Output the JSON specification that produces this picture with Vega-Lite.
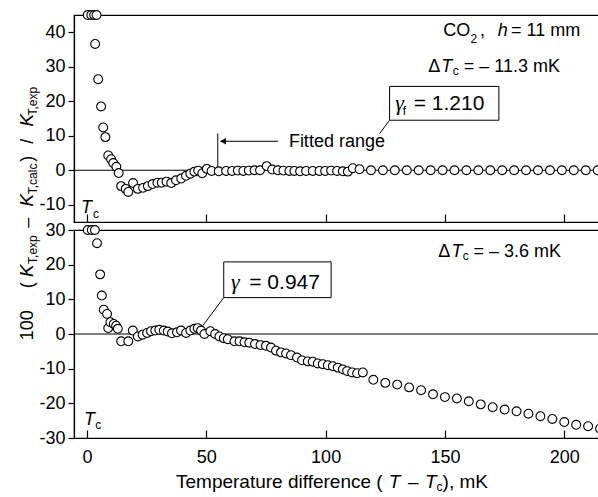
{
  "$schema": "https://vega.github.io/schema/vega-lite/v6.json",
  "padding": {"left": 17, "top": 7, "right": 0, "bottom": 0},
  "spacing": 8,
  "bounds": "flush",
  "config": {
    "view": {"stroke": "black", "strokeWidth": 1.2},
    "axis": {"labelFont": "Liberation Sans", "labelFontSize": 18, "labelColor": "black", "domainColor": "black", "tickColor": "black", "domainWidth": 1.2, "tickWidth": 1.2, "grid": false, "labelFlush": false, "labelOverlap": false}
  },
  "datasets": {
    "top": [
      {"x":0.3,"y":45},{"x":1.8,"y":45},{"x":3,"y":45},{"x":4,"y":45},
      {"x":3.4,"y":36.6},{"x":4.7,"y":26.4},{"x":5.9,"y":18.5},{"x":6.8,"y":12.4},{"x":7.7,"y":9.6},{"x":8.9,"y":4.3},{"x":10.1,"y":3.2},{"x":11.0,"y":2.1},{"x":12.3,"y":1.0},{"x":13.3,"y":-0.8},{"x":14.3,"y":-4.6},{"x":16.2,"y":-5.4},{"x":17.3,"y":-6.3},{"x":19.3,"y":-3.7},{"x":21.3,"y":-5.4},{"x":23.5,"y":-5.1},{"x":25.5,"y":-4.6},{"x":27.5,"y":-4.0},{"x":29.5,"y":-3.6},{"x":31.3,"y":-3.6},{"x":33.3,"y":-3.3},{"x":35.3,"y":-3.7},{"x":37.3,"y":-2.9},{"x":39.5,"y":-2.4},{"x":41.5,"y":-1.6},{"x":43.3,"y":-1.0},{"x":45.0,"y":-0.4},{"x":46.6,"y":-0.1},{"x":48.3,"y":-0.9},{"x":50.2,"y":0.4},{"x":52.2,"y":-0.2},{"x":55.2,"y":-0.3},{"x":58.3,"y":-0.2},{"x":60.8,"y":-0.2},{"x":63.2,"y":-0.1},{"x":65.5,"y":-0.2},{"x":67.8,"y":-0.1},{"x":70.2,"y":0},{"x":72.5,"y":0},{"x":75.3,"y":1.2},{"x":77.6,"y":0.2},{"x":80,"y":0},{"x":82.3,"y":-0.1},{"x":84.8,"y":-0.2},{"x":86.9,"y":-0.2},{"x":89.3,"y":-0.3},{"x":91.8,"y":-0.2},{"x":94.6,"y":-0.2},{"x":97.4,"y":-0.2},{"x":99.8,"y":-0.2},{"x":102.3,"y":-0.1},{"x":104.8,"y":-0.2},{"x":107.2,"y":-0.3},{"x":109.3,"y":-0.4},{"x":111.4,"y":0.6},{"x":114.2,"y":0.3},
      {"x":119,"y":0},{"x":124,"y":0},{"x":129,"y":0},{"x":134,"y":0},{"x":139,"y":0},{"x":144,"y":0},{"x":149,"y":0},{"x":154,"y":0},{"x":159,"y":0},{"x":164,"y":0},{"x":169,"y":0},{"x":174,"y":0},{"x":179,"y":0},{"x":184,"y":0},{"x":189,"y":0},{"x":194,"y":0},{"x":199,"y":0},{"x":204,"y":0},{"x":209,"y":0},{"x":214,"y":0}
    ],
    "bot": [
      {"x":0.3,"y":30},{"x":2,"y":30},{"x":3.3,"y":30},
      {"x":4.2,"y":26.2},{"x":5.5,"y":17.2},{"x":6.2,"y":11.1},{"x":7.0,"y":7.0},{"x":8.4,"y":5.8},{"x":8.9,"y":1.7},{"x":9.8,"y":3.4},{"x":11.2,"y":2.9},{"x":12.2,"y":2.4},{"x":12.9,"y":1.5},{"x":14.3,"y":-2.1},{"x":17.3,"y":-2.1},{"x":19.2,"y":1.0},{"x":21.3,"y":-0.7},{"x":23.3,"y":-0.2},{"x":25.2,"y":0.3},{"x":26.8,"y":0.8},{"x":28.6,"y":1.0},{"x":30.3,"y":1.2},{"x":32.2,"y":1.0},{"x":33.8,"y":0.7},{"x":35.6,"y":0.2},{"x":37.7,"y":0.5},{"x":39.4,"y":1.0},{"x":41.5,"y":0.3},{"x":43.3,"y":1.0},{"x":45.0,"y":1.5},{"x":46.4,"y":1.7},{"x":47.8,"y":1.0},{"x":49.2,"y":0},{"x":51.7,"y":0.8},{"x":53.7,"y":0},{"x":55.5,"y":-0.7},{"x":57.3,"y":-1.2},{"x":59.0,"y":-1.5},{"x":61.8,"y":-2.1},{"x":63.9,"y":-2.1},{"x":66,"y":-2.4},{"x":68,"y":-2.5},{"x":70.4,"y":-2.9},{"x":72.7,"y":-3.2},{"x":75,"y":-3.4},{"x":77.1,"y":-3.9},{"x":79.2,"y":-4.8},{"x":81.3,"y":-5.3},{"x":83.4,"y":-5.6},{"x":85.5,"y":-6.1},{"x":88,"y":-6.8},{"x":90.1,"y":-7.6},{"x":92.5,"y":-7.9},{"x":94.6,"y":-8.0},{"x":96.7,"y":-8.5},{"x":98.8,"y":-8.7},{"x":100.9,"y":-9.0},{"x":103,"y":-9.3},{"x":105.1,"y":-9.7},{"x":107.2,"y":-10.2},{"x":109,"y":-10.7},{"x":111.1,"y":-11.1},{"x":113.2,"y":-11.3},{"x":115.6,"y":-11.1},
      {"x":120,"y":-13.2},{"x":125,"y":-14.1},{"x":130,"y":-14.6},{"x":135,"y":-15.4},{"x":140,"y":-16.2},{"x":145,"y":-17.4},{"x":150,"y":-18.2},{"x":155,"y":-18.6},{"x":160,"y":-19.4},{"x":165,"y":-20.3},{"x":170,"y":-21.1},{"x":175,"y":-21.8},{"x":180,"y":-22.3},{"x":185,"y":-23.0},{"x":190,"y":-23.7},{"x":195,"y":-24.5},{"x":200,"y":-25.4},{"x":205,"y":-26.2},{"x":210,"y":-26.6},{"x":215,"y":-27.3}
    ],
    "tNorm": [
      {"t":"Fitted range","x":84.6,"y":6.7},
      {"t":"CO","x":149.3,"y":38.8},
      {"t":",","x":164.7,"y":38.8},
      {"t":"= 11 mm","x":177.7,"y":38.8},
      {"t":"Δ","x":143.0,"y":28.5},
      {"t":"= – 11.3 mK","x":157.9,"y":28.5}
    ],
    "tItal": [
      {"t":"h","x":172.1,"y":38.8},
      {"t":"T","x":148.5,"y":28.5},
      {"t":"T","x":-2.5,"y":-12.5}
    ],
    "tSub": [
      {"t":"2","x":160.7,"y":37.0},
      {"t":"c","x":153.3,"y":27.5},
      {"t":"c","x":2.5,"y":-13.9},
      {"t":"f","x":132.3,"y":15.9}
    ],
    "tBox": [{"t":"= 1.210","x":136.9,"y":17.4}],
    "tGam": [{"t":"γ","x":129.2,"y":17.4}],
    "tRect": [{"x":126.8,"x2":172.6,"y":14.5,"y2":24.3}],
    "tLines": [
      {"x":126.8,"y":14.5,"x2":122.6,"y2":10.6},
      {"x":54.8,"y":0.6,"x2":54.8,"y2":10.7},
      {"x":56,"y":8.4,"x2":80.1,"y2":8.4}
    ],
    "tArrow": [{"x":57,"y":8.4}],
    "yMain": [
      {"t":"100","x":-22.75,"y":-44.9},
      {"t":"(","x":-22.75,"y":-33.3},
      {"t":"–","x":-22.75,"y":-15.2},
      {"t":")","x":-22.75,"y":3.3},
      {"t":"/","x":-22.75,"y":8.4}
    ],
    "yK": [
      {"t":"K","x":-22.75,"y":-29.1},
      {"t":"K","x":-22.75,"y":-8.7},
      {"t":"K","x":-22.75,"y":14.5}
    ],
    "ySub": [
      {"t":"T,exp","x":-20.95,"y":-23.0},
      {"t":"T,calc","x":-20.95,"y":-2.5},
      {"t":"T,exp","x":-20.95,"y":20.0}
    ],
    "bNorm": [
      {"t":"Δ","x":147.2,"y":22.3},
      {"t":"= – 3.6 mK","x":162.0,"y":22.3}
    ],
    "bTitle": [
      {"t":"Temperature difference (","x":37.3,"y":-44.5},
      {"t":"–","x":134.5,"y":-44.5},
      {"t":"), mK","x":149.0,"y":-44.5}
    ],
    "bTitleI": [
      {"t":"T","x":126.5,"y":-44.5},
      {"t":"T","x":141.6,"y":-44.5}
    ],
    "bItal": [
      {"t":"T","x":152.7,"y":22.3},
      {"t":"T","x":-1.3,"y":-26.2}
    ],
    "bSub": [
      {"t":"c","x":157.5,"y":21.3},
      {"t":"c","x":3.5,"y":-27.3},
      {"t":"c","x":146.5,"y":-45.4}
    ],
    "bBox": [{"t":"= 0.947","x":68.0,"y":13.1}],
    "bGam": [{"t":"γ","x":60.3,"y":13.1}],
    "bRect": [{"x":57.3,"x2":102.3,"y":10.5,"y2":20.8}],
    "bLines": [{"x":57.3,"y":10.5,"x2":48.5,"y2":2.4}]
  },
  "vconcat": [
    {
      "width": 527,
      "height": 207,
      "layer": [
        {
          "data": {"values": [{"y": 0}]},
          "mark": {"type": "rule", "color": "black", "strokeWidth": 1.2},
          "encoding": {"y": {"field": "y", "type": "quantitative", "scale": {"domain": [-15, 45], "nice": false, "zero": false}, "axis": {"values": [-10, 0, 10, 20, 30, 40], "title": null, "tickSize": 6, "labelPadding": 3, "labelExpr": "replace(datum.label, '−', '-')"}}}
        },
        {
          "data": {"name": "tLines"},
          "mark": {"type": "rule", "color": "black", "strokeWidth": 1},
          "encoding": {
            "x": {"field": "x", "type": "quantitative", "scale": {"domain": [-5.45, 215.4], "nice": false, "zero": false}, "axis": {"values": [0, 50, 100, 150, 200], "labels": false, "tickSize": -8, "title": null}},
            "x2": {"field": "x2"},
            "y": {"field": "y", "type": "quantitative", "scale": {"domain": [-15, 45], "nice": false, "zero": false}, "axis": {"values": [-10, 0, 10, 20, 30, 40], "title": null, "tickSize": 6, "labelPadding": 3, "labelExpr": "replace(datum.label, '−', '-')"}},
            "y2": {"field": "y2"}
          }
        },
        {
          "data": {"name": "tArrow"},
          "mark": {"type": "point", "shape": "triangle-left", "filled": true, "color": "black", "size": 45, "opacity": 1},
          "encoding": {
            "x": {"field": "x", "type": "quantitative", "scale": {"domain": [-5.45, 215.4], "nice": false, "zero": false}, "axis": {"values": [0, 50, 100, 150, 200], "labels": false, "tickSize": -8, "title": null}},
            "y": {"field": "y", "type": "quantitative", "scale": {"domain": [-15, 45], "nice": false, "zero": false}, "axis": {"values": [-10, 0, 10, 20, 30, 40], "title": null, "tickSize": 6, "labelPadding": 3, "labelExpr": "replace(datum.label, '−', '-')"}}
          }
        },
        {
          "data": {"name": "top"},
          "mark": {"type": "point", "shape": "circle", "filled": true, "fill": "white", "stroke": "black", "strokeWidth": 1.1, "size": 78, "opacity": 1},
          "encoding": {
            "x": {"field": "x", "type": "quantitative", "scale": {"domain": [-5.45, 215.4], "nice": false, "zero": false}, "axis": {"values": [0, 50, 100, 150, 200], "labels": false, "tickSize": -8, "title": null}},
            "y": {"field": "y", "type": "quantitative", "scale": {"domain": [-15, 45], "nice": false, "zero": false}, "axis": {"values": [-10, 0, 10, 20, 30, 40], "title": null, "tickSize": 6, "labelPadding": 3, "labelExpr": "replace(datum.label, '−', '-')"}}
          }
        },
        {
          "data": {"name": "tRect"},
          "mark": {"type": "rect", "fill": "white", "stroke": "black", "strokeWidth": 1},
          "encoding": {
            "x": {"field": "x", "type": "quantitative", "scale": {"domain": [-5.45, 215.4], "nice": false, "zero": false}, "axis": {"values": [0, 50, 100, 150, 200], "labels": false, "tickSize": -8, "title": null}},
            "x2": {"field": "x2"},
            "y": {"field": "y", "type": "quantitative", "scale": {"domain": [-15, 45], "nice": false, "zero": false}, "axis": {"values": [-10, 0, 10, 20, 30, 40], "title": null, "tickSize": 6, "labelPadding": 3, "labelExpr": "replace(datum.label, '−', '-')"}},
            "y2": {"field": "y2"}
          }
        },
        {
          "data": {"name": "tNorm"},
          "mark": {"type": "text", "align": "left", "baseline": "alphabetic", "font": "Liberation Sans", "fontSize": 18, "color": "black"},
          "encoding": {
            "x": {"field": "x", "type": "quantitative", "scale": {"domain": [-5.45, 215.4], "nice": false, "zero": false}, "axis": {"values": [0, 50, 100, 150, 200], "labels": false, "tickSize": -8, "title": null}},
            "y": {"field": "y", "type": "quantitative", "scale": {"domain": [-15, 45], "nice": false, "zero": false}, "axis": {"values": [-10, 0, 10, 20, 30, 40], "title": null, "tickSize": 6, "labelPadding": 3, "labelExpr": "replace(datum.label, '−', '-')"}},
            "text": {"field": "t"}
          }
        },
        {
          "data": {"name": "tItal"},
          "mark": {"type": "text", "align": "left", "baseline": "alphabetic", "font": "Liberation Sans", "fontStyle": "italic", "fontSize": 18, "color": "black"},
          "encoding": {
            "x": {"field": "x", "type": "quantitative", "scale": {"domain": [-5.45, 215.4], "nice": false, "zero": false}, "axis": {"values": [0, 50, 100, 150, 200], "labels": false, "tickSize": -8, "title": null}},
            "y": {"field": "y", "type": "quantitative", "scale": {"domain": [-15, 45], "nice": false, "zero": false}, "axis": {"values": [-10, 0, 10, 20, 30, 40], "title": null, "tickSize": 6, "labelPadding": 3, "labelExpr": "replace(datum.label, '−', '-')"}},
            "text": {"field": "t"}
          }
        },
        {
          "data": {"name": "tSub"},
          "mark": {"type": "text", "align": "left", "baseline": "alphabetic", "font": "Liberation Sans", "fontSize": 12, "color": "black"},
          "encoding": {
            "x": {"field": "x", "type": "quantitative", "scale": {"domain": [-5.45, 215.4], "nice": false, "zero": false}, "axis": {"values": [0, 50, 100, 150, 200], "labels": false, "tickSize": -8, "title": null}},
            "y": {"field": "y", "type": "quantitative", "scale": {"domain": [-15, 45], "nice": false, "zero": false}, "axis": {"values": [-10, 0, 10, 20, 30, 40], "title": null, "tickSize": 6, "labelPadding": 3, "labelExpr": "replace(datum.label, '−', '-')"}},
            "text": {"field": "t"}
          }
        },
        {
          "data": {"name": "tBox"},
          "mark": {"type": "text", "align": "left", "baseline": "alphabetic", "font": "Liberation Sans", "fontSize": 21, "color": "black"},
          "encoding": {
            "x": {"field": "x", "type": "quantitative", "scale": {"domain": [-5.45, 215.4], "nice": false, "zero": false}, "axis": {"values": [0, 50, 100, 150, 200], "labels": false, "tickSize": -8, "title": null}},
            "y": {"field": "y", "type": "quantitative", "scale": {"domain": [-15, 45], "nice": false, "zero": false}, "axis": {"values": [-10, 0, 10, 20, 30, 40], "title": null, "tickSize": 6, "labelPadding": 3, "labelExpr": "replace(datum.label, '−', '-')"}},
            "text": {"field": "t"}
          }
        },
        {
          "data": {"name": "tGam"},
          "mark": {"type": "text", "align": "left", "baseline": "alphabetic", "font": "Liberation Serif", "fontStyle": "italic", "fontSize": 22, "color": "black"},
          "encoding": {
            "x": {"field": "x", "type": "quantitative", "scale": {"domain": [-5.45, 215.4], "nice": false, "zero": false}, "axis": {"values": [0, 50, 100, 150, 200], "labels": false, "tickSize": -8, "title": null}},
            "y": {"field": "y", "type": "quantitative", "scale": {"domain": [-15, 45], "nice": false, "zero": false}, "axis": {"values": [-10, 0, 10, 20, 30, 40], "title": null, "tickSize": 6, "labelPadding": 3, "labelExpr": "replace(datum.label, '−', '-')"}},
            "text": {"field": "t"}
          }
        },
        {
          "data": {"name": "yMain"},
          "mark": {"type": "text", "align": "center", "baseline": "alphabetic", "angle": 270, "font": "Liberation Sans", "fontSize": 18, "color": "black"},
          "encoding": {
            "x": {"field": "x", "type": "quantitative", "scale": {"domain": [-5.45, 215.4], "nice": false, "zero": false}, "axis": {"values": [0, 50, 100, 150, 200], "labels": false, "tickSize": -8, "title": null}},
            "y": {"field": "y", "type": "quantitative", "scale": {"domain": [-15, 45], "nice": false, "zero": false}, "axis": {"values": [-10, 0, 10, 20, 30, 40], "title": null, "tickSize": 6, "labelPadding": 3, "labelExpr": "replace(datum.label, '−', '-')"}},
            "text": {"field": "t"}
          }
        },
        {
          "data": {"name": "yK"},
          "mark": {"type": "text", "align": "center", "baseline": "alphabetic", "angle": 270, "font": "Liberation Sans", "fontStyle": "italic", "fontSize": 19, "color": "black"},
          "encoding": {
            "x": {"field": "x", "type": "quantitative", "scale": {"domain": [-5.45, 215.4], "nice": false, "zero": false}, "axis": {"values": [0, 50, 100, 150, 200], "labels": false, "tickSize": -8, "title": null}},
            "y": {"field": "y", "type": "quantitative", "scale": {"domain": [-15, 45], "nice": false, "zero": false}, "axis": {"values": [-10, 0, 10, 20, 30, 40], "title": null, "tickSize": 6, "labelPadding": 3, "labelExpr": "replace(datum.label, '−', '-')"}},
            "text": {"field": "t"}
          }
        },
        {
          "data": {"name": "ySub"},
          "mark": {"type": "text", "align": "center", "baseline": "alphabetic", "angle": 270, "font": "Liberation Sans", "fontSize": 12, "color": "black"},
          "encoding": {
            "x": {"field": "x", "type": "quantitative", "scale": {"domain": [-5.45, 215.4], "nice": false, "zero": false}, "axis": {"values": [0, 50, 100, 150, 200], "labels": false, "tickSize": -8, "title": null}},
            "y": {"field": "y", "type": "quantitative", "scale": {"domain": [-15, 45], "nice": false, "zero": false}, "axis": {"values": [-10, 0, 10, 20, 30, 40], "title": null, "tickSize": 6, "labelPadding": 3, "labelExpr": "replace(datum.label, '−', '-')"}},
            "text": {"field": "t"}
          }
        }
      ]
    },
    {
      "width": 527,
      "height": 208,
      "layer": [
        {
          "data": {"values": [{"y": 0}]},
          "mark": {"type": "rule", "color": "black", "strokeWidth": 1.2},
          "encoding": {"y": {"field": "y", "type": "quantitative", "scale": {"domain": [-30, 30], "nice": false, "zero": false}, "axis": {"values": [-30, -20, -10, 0, 10, 20, 30], "title": null, "tickSize": 6, "labelPadding": 3, "labelExpr": "replace(datum.label, '−', '-')"}}}
        },
        {
          "data": {"name": "bLines"},
          "mark": {"type": "rule", "color": "black", "strokeWidth": 1},
          "encoding": {
            "x": {"field": "x", "type": "quantitative", "scale": {"domain": [-5.45, 215.4], "nice": false, "zero": false}, "axis": {"values": [0, 50, 100, 150, 200], "tickSize": -8, "labelPadding": 18, "title": null}},
            "x2": {"field": "x2"},
            "y": {"field": "y", "type": "quantitative", "scale": {"domain": [-30, 30], "nice": false, "zero": false}, "axis": {"values": [-30, -20, -10, 0, 10, 20, 30], "title": null, "tickSize": 6, "labelPadding": 3, "labelExpr": "replace(datum.label, '−', '-')"}},
            "y2": {"field": "y2"}
          }
        },
        {
          "data": {"name": "bot"},
          "mark": {"type": "point", "shape": "circle", "filled": true, "fill": "white", "stroke": "black", "strokeWidth": 1.1, "size": 78, "opacity": 1},
          "encoding": {
            "x": {"field": "x", "type": "quantitative", "scale": {"domain": [-5.45, 215.4], "nice": false, "zero": false}, "axis": {"values": [0, 50, 100, 150, 200], "tickSize": -8, "labelPadding": 18, "title": null}},
            "y": {"field": "y", "type": "quantitative", "scale": {"domain": [-30, 30], "nice": false, "zero": false}, "axis": {"values": [-30, -20, -10, 0, 10, 20, 30], "title": null, "tickSize": 6, "labelPadding": 3, "labelExpr": "replace(datum.label, '−', '-')"}}
          }
        },
        {
          "data": {"name": "bRect"},
          "mark": {"type": "rect", "fill": "white", "stroke": "black", "strokeWidth": 1},
          "encoding": {
            "x": {"field": "x", "type": "quantitative", "scale": {"domain": [-5.45, 215.4], "nice": false, "zero": false}, "axis": {"values": [0, 50, 100, 150, 200], "tickSize": -8, "labelPadding": 18, "title": null}},
            "x2": {"field": "x2"},
            "y": {"field": "y", "type": "quantitative", "scale": {"domain": [-30, 30], "nice": false, "zero": false}, "axis": {"values": [-30, -20, -10, 0, 10, 20, 30], "title": null, "tickSize": 6, "labelPadding": 3, "labelExpr": "replace(datum.label, '−', '-')"}},
            "y2": {"field": "y2"}
          }
        },
        {
          "data": {"name": "bNorm"},
          "mark": {"type": "text", "align": "left", "baseline": "alphabetic", "font": "Liberation Sans", "fontSize": 18, "color": "black"},
          "encoding": {
            "x": {"field": "x", "type": "quantitative", "scale": {"domain": [-5.45, 215.4], "nice": false, "zero": false}, "axis": {"values": [0, 50, 100, 150, 200], "tickSize": -8, "labelPadding": 18, "title": null}},
            "y": {"field": "y", "type": "quantitative", "scale": {"domain": [-30, 30], "nice": false, "zero": false}, "axis": {"values": [-30, -20, -10, 0, 10, 20, 30], "title": null, "tickSize": 6, "labelPadding": 3, "labelExpr": "replace(datum.label, '−', '-')"}},
            "text": {"field": "t"}
          }
        },
        {
          "data": {"name": "bTitle"},
          "mark": {"type": "text", "align": "left", "baseline": "alphabetic", "font": "Liberation Sans", "fontSize": 19, "color": "black"},
          "encoding": {
            "x": {"field": "x", "type": "quantitative", "scale": {"domain": [-5.45, 215.4], "nice": false, "zero": false}, "axis": {"values": [0, 50, 100, 150, 200], "tickSize": -8, "labelPadding": 18, "title": null}},
            "y": {"field": "y", "type": "quantitative", "scale": {"domain": [-30, 30], "nice": false, "zero": false}, "axis": {"values": [-30, -20, -10, 0, 10, 20, 30], "title": null, "tickSize": 6, "labelPadding": 3, "labelExpr": "replace(datum.label, '−', '-')"}},
            "text": {"field": "t"}
          }
        },
        {
          "data": {"name": "bTitleI"},
          "mark": {"type": "text", "align": "left", "baseline": "alphabetic", "font": "Liberation Sans", "fontStyle": "italic", "fontSize": 19, "color": "black"},
          "encoding": {
            "x": {"field": "x", "type": "quantitative", "scale": {"domain": [-5.45, 215.4], "nice": false, "zero": false}, "axis": {"values": [0, 50, 100, 150, 200], "tickSize": -8, "labelPadding": 18, "title": null}},
            "y": {"field": "y", "type": "quantitative", "scale": {"domain": [-30, 30], "nice": false, "zero": false}, "axis": {"values": [-30, -20, -10, 0, 10, 20, 30], "title": null, "tickSize": 6, "labelPadding": 3, "labelExpr": "replace(datum.label, '−', '-')"}},
            "text": {"field": "t"}
          }
        },
        {
          "data": {"name": "bItal"},
          "mark": {"type": "text", "align": "left", "baseline": "alphabetic", "font": "Liberation Sans", "fontStyle": "italic", "fontSize": 18, "color": "black"},
          "encoding": {
            "x": {"field": "x", "type": "quantitative", "scale": {"domain": [-5.45, 215.4], "nice": false, "zero": false}, "axis": {"values": [0, 50, 100, 150, 200], "tickSize": -8, "labelPadding": 18, "title": null}},
            "y": {"field": "y", "type": "quantitative", "scale": {"domain": [-30, 30], "nice": false, "zero": false}, "axis": {"values": [-30, -20, -10, 0, 10, 20, 30], "title": null, "tickSize": 6, "labelPadding": 3, "labelExpr": "replace(datum.label, '−', '-')"}},
            "text": {"field": "t"}
          }
        },
        {
          "data": {"name": "bSub"},
          "mark": {"type": "text", "align": "left", "baseline": "alphabetic", "font": "Liberation Sans", "fontSize": 12, "color": "black"},
          "encoding": {
            "x": {"field": "x", "type": "quantitative", "scale": {"domain": [-5.45, 215.4], "nice": false, "zero": false}, "axis": {"values": [0, 50, 100, 150, 200], "tickSize": -8, "labelPadding": 18, "title": null}},
            "y": {"field": "y", "type": "quantitative", "scale": {"domain": [-30, 30], "nice": false, "zero": false}, "axis": {"values": [-30, -20, -10, 0, 10, 20, 30], "title": null, "tickSize": 6, "labelPadding": 3, "labelExpr": "replace(datum.label, '−', '-')"}},
            "text": {"field": "t"}
          }
        },
        {
          "data": {"name": "bBox"},
          "mark": {"type": "text", "align": "left", "baseline": "alphabetic", "font": "Liberation Sans", "fontSize": 21, "color": "black"},
          "encoding": {
            "x": {"field": "x", "type": "quantitative", "scale": {"domain": [-5.45, 215.4], "nice": false, "zero": false}, "axis": {"values": [0, 50, 100, 150, 200], "tickSize": -8, "labelPadding": 18, "title": null}},
            "y": {"field": "y", "type": "quantitative", "scale": {"domain": [-30, 30], "nice": false, "zero": false}, "axis": {"values": [-30, -20, -10, 0, 10, 20, 30], "title": null, "tickSize": 6, "labelPadding": 3, "labelExpr": "replace(datum.label, '−', '-')"}},
            "text": {"field": "t"}
          }
        },
        {
          "data": {"name": "bGam"},
          "mark": {"type": "text", "align": "left", "baseline": "alphabetic", "font": "Liberation Serif", "fontStyle": "italic", "fontSize": 22, "color": "black"},
          "encoding": {
            "x": {"field": "x", "type": "quantitative", "scale": {"domain": [-5.45, 215.4], "nice": false, "zero": false}, "axis": {"values": [0, 50, 100, 150, 200], "tickSize": -8, "labelPadding": 18, "title": null}},
            "y": {"field": "y", "type": "quantitative", "scale": {"domain": [-30, 30], "nice": false, "zero": false}, "axis": {"values": [-30, -20, -10, 0, 10, 20, 30], "title": null, "tickSize": 6, "labelPadding": 3, "labelExpr": "replace(datum.label, '−', '-')"}},
            "text": {"field": "t"}
          }
        }
      ]
    }
  ]
}
